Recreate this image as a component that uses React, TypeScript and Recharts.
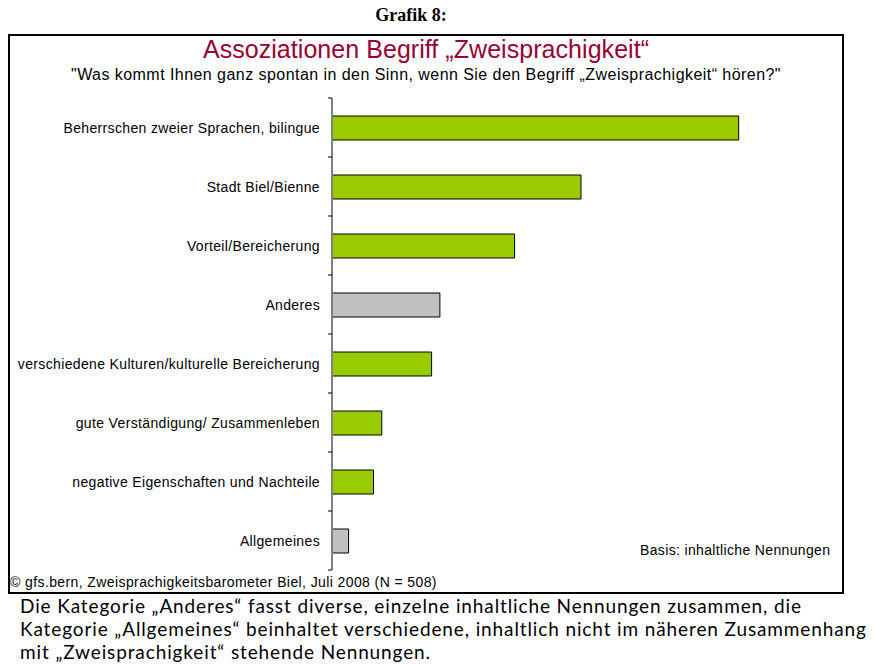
import React from "react";
import { BarChart, Bar, XAxis, YAxis, Cell } from "recharts";

const categories = [
  "Beherrschen zweier Sprachen, bilingue",
  "Stadt Biel/Bienne",
  "Vorteil/Bereicherung",
  "Anderes",
  "verschiedene Kulturen/kulturelle Bereicherung",
  "gute Verständigung/ Zusammenleben",
  "negative Eigenschaften und Nachteile",
  "Allgemeines",
];
const values = [49, 30, 22, 13, 12, 6, 5, 2];
const isOther = [false, false, false, true, false, false, false, true];

const data = categories.map((name, i) => ({
  name,
  value: values[i],
  other: isOther[i],
}));

const GREEN = "#99cc00";
const GREY = "#c0c0c0";
const AXIS_X = 332;
const BAND = 59;
const LABEL_FONT = "'Liberation Sans', Arial, sans-serif";

const CategoryTick: React.FC<any> = ({ y, payload, index }) => {
  return (
    <g>
      <text
        x={AXIS_X - 12}
        y={y}
        dy={5}
        textAnchor="end"
        fill="#000"
        fontSize={14}
        letterSpacing={0.35}
        fontFamily={LABEL_FONT}
      >
        {payload.value}
      </text>
      {index === 0 && (
        <line
          x1={AXIS_X - 4}
          x2={AXIS_X}
          y1={y - BAND / 2}
          y2={y - BAND / 2}
          stroke="#000"
        />
      )}
      <line
        x1={AXIS_X - 4}
        x2={AXIS_X}
        y1={y + BAND / 2}
        y2={y + BAND / 2}
        stroke="#000"
      />
    </g>
  );
};

const App: React.FC = () => {
  return (
    <div
      style={{
        position: "absolute",
        left: 0,
        top: 0,
        width: 874,
        height: 665,
        background: "#fff",
        overflow: "hidden",
      }}
    >
      <div
        style={{
          position: "absolute",
          left: 0,
          width: 822,
          top: 5,
          textAlign: "center",
          fontFamily: "'Liberation Serif', serif",
          fontWeight: "bold",
          fontSize: 18,
        }}
      >
        Grafik 8:
      </div>
      {/* frame */}
      <div
        style={{
          position: "absolute",
          left: 8,
          top: 34,
          width: 832,
          height: 556,
          border: "2px solid #000",
        }}
      />
      <div
        style={{
          position: "absolute",
          left: 8,
          width: 836,
          top: 35,
          textAlign: "center",
          fontFamily: LABEL_FONT,
          fontSize: 25,
          letterSpacing: 0.05,
          color: "#990033",
        }}
      >
        Assoziationen Begriff „Zweisprachigkeit“
      </div>
      <div
        style={{
          position: "absolute",
          left: 8,
          width: 836,
          top: 66,
          textAlign: "center",
          fontFamily: LABEL_FONT,
          fontSize: 16,
          letterSpacing: 0.45,
          color: "#000",
        }}
      >
        "Was kommt Ihnen ganz spontan in den Sinn, wenn Sie den Begriff „Zweisprachigkeit“ hören?"
      </div>
      <div style={{ position: "absolute", left: 0, top: 90 }}>
        <BarChart
          width={840}
          height={490}
          data={data}
          layout="vertical"
          margin={{ top: 8, right: 10, bottom: 10, left: 0 }}
        >
          <XAxis type="number" domain={[0, 60]} hide />
          <YAxis
            type="category"
            dataKey="name"
            width={AXIS_X}
            axisLine={{ stroke: "#808080", strokeWidth: 2 }}
            tickLine={false}
            tick={<CategoryTick />}
            interval={0}
          />
          <Bar
            dataKey="value"
            barSize={24}
            stroke="#000"
            strokeWidth={1}
            isAnimationActive={false}
          >
            {data.map((d, i) => (
              <Cell key={`cell-${i}`} fill={d.other ? GREY : GREEN} />
            ))}
          </Bar>
        </BarChart>
      </div>
      <div
        style={{
          position: "absolute",
          left: 640,
          top: 542,
          fontFamily: LABEL_FONT,
          fontSize: 14,
          letterSpacing: 0.35,
          color: "#000",
        }}
      >
        Basis: inhaltliche Nennungen
      </div>
      <div
        style={{
          position: "absolute",
          left: 10,
          top: 574,
          fontFamily: LABEL_FONT,
          fontSize: 14,
          letterSpacing: 0.4,
          color: "#000",
        }}
      >
        © gfs.bern, Zweisprachigkeitsbarometer Biel, Juli 2008 (N = 508)
      </div>
      <div
        style={{
          position: "absolute",
          left: 20,
          top: 594,
          width: 1000,
          fontFamily: "Lato, sans-serif",
          fontSize: 19,
          letterSpacing: 0.88,
          lineHeight: "23px",
          color: "#000",
          whiteSpace: "nowrap",
        }}
      >
        Die Kategorie „Anderes“ fasst diverse, einzelne inhaltliche Nennungen zusammen, die
        <br />
        Kategorie „Allgemeines“ beinhaltet verschiedene, inhaltlich nicht im näheren Zusammenhang
        <br />
        mit „Zweisprachigkeit“ stehende Nennungen.
      </div>
    </div>
  );
};

export default App;
